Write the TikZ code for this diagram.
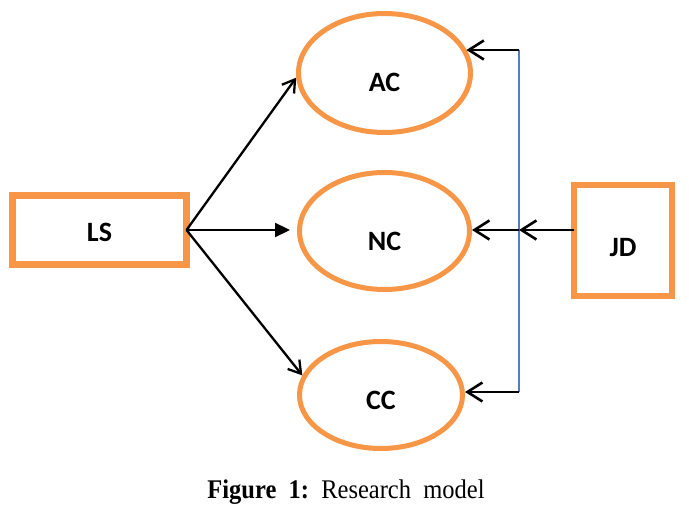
\documentclass[tikz,border=0pt]{standalone}
\usepackage{fontspec}
\setmainfont{Liberation Serif}
\newfontfamily\labelfont{Carlito}
\usetikzlibrary{arrows.meta,shapes.geometric,calc}
\definecolor{tangerine}{RGB}{247,150,70}
\definecolor{steel}{RGB}{79,129,189}
\definecolor{ink}{RGB}{0,0,0}
\tikzset{
  construct/.style={ellipse,draw=tangerine,line width=5pt,inner sep=0pt},
  factor/.style={rectangle,draw=tangerine,inner sep=0pt,outer sep=0pt},
  tag/.style={font=\labelfont\bfseries\fontsize{28}{30}\selectfont,text=ink},
  link/.style={draw=ink,line width=2.3pt,-{Straight Barb[length=12pt,width=15pt]}},
  feed/.style={draw=ink,line width=2.6pt,-{Straight Barb[length=15pt,width=19pt]}},
  push/.style={draw=ink,line width=2.3pt,-{Triangle[length=15pt,width=14pt]}},
  bus/.style={draw=steel,line width=2pt},
}
\begin{document}
\begin{tikzpicture}[x=1pt,y=-1pt]
  \useasboundingbox (0,0) rectangle (689,513);
  % independent and dependent variables
  \node[factor,line width=7pt,minimum width=174pt,minimum height=69pt,
    label={[tag,yshift=-2pt]center:LS}] (LS) at (99.5,230) {};
  \node[construct,minimum width=172pt,minimum height=119pt,
    label={[tag,yshift=-9pt]center:AC}] (AC) at (384.5,73) {};
  \node[construct,minimum width=170pt,minimum height=117pt,
    label={[tag,yshift=-10pt]center:NC}] (NC) at (384.5,231) {};
  \node[construct,minimum width=163pt,minimum height=107pt,
    label={[tag,yshift=-5pt]center:CC}] (CC) at (381,395) {};
  \node[factor,line width=6pt,minimum width=98pt,minimum height=111pt,
    label={[tag,yshift=-7pt]center:JD}] (JD) at (623,240.5) {};
  % moderator bus
  \coordinate (bt) at (519,50);
  \coordinate (bm) at (519,230);
  \coordinate (bb) at (519,392);
  \draw[bus] (bt) -- (bb);
  % arrows
  \draw[link] (LS.east) -- (AC.183);
  \draw[push] (LS.east) -- ([xshift=-7pt]LS.east -| NC.west);
  \draw[link] (LS.east) -- (CC.166);
  \draw[feed] (bt) -- (bt -| AC.16);
  \draw[feed] (JD.west |- bm) -- (bm);
  \draw[feed] (bm) -- (bm -| NC.east);
  \draw[feed] (bb) -- (bb -| CC.east);
  % caption
  \node[anchor=base] (cap) at (346,498) {\scalebox{1}[1.1]{\fontsize{24.5}{26}\selectfont
    \textbf{Figure\ \ 1:}\ \ Research\ \ model}};
\end{tikzpicture}
\end{document}
